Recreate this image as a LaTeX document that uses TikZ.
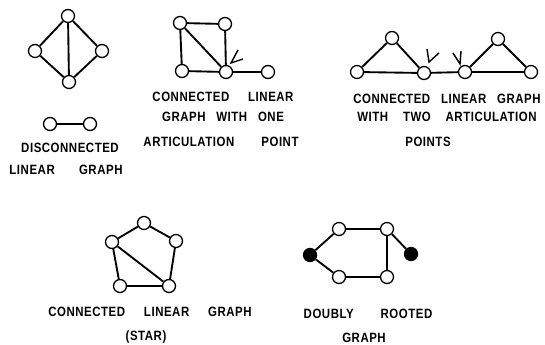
\documentclass[tikz,border=0pt]{standalone}
\usepackage{fontspec}
\setsansfont{Liberation Sans}[FakeStretch=0.85, LetterSpace=4]
\usepackage{tikz}

\newcommand{\wgap}{\hspace{1.4em}}

\begin{document}
\begin{tikzpicture}[x=0.03cm, y=-0.03cm,
        vtx/.style={circle, draw, line width=1.1pt, fill=white,
            minimum size=0.39cm, inner sep=0pt},
        root/.style={vtx, fill=black},
        edge/.style={line width=1.6pt},
        tick/.style={line width=1.2pt},
        lbl/.style={font=\sffamily\bfseries\fontsize{11.5}{13}\selectfont,
            inner sep=0pt}]

    \useasboundingbox (0,0) rectangle (545,345);

    % diamond
    \node[vtx] (d1) at (68,16) {};
    \node[vtx] (d2) at (35,51) {};
    \node[vtx] (d3) at (102,51) {};
    \node[vtx] (d4) at (69,82) {};

    \draw[edge]
        (d1) -- (d2) -- (d4) -- (d3) -- (d1)
        (d1) -- (d4);

    % disconnected pair
    \node[vtx] (p1) at (50,124) {};
    \node[vtx] (p2) at (90,124) {};

    \draw[line width=1pt]
        (p1) -- (p2);

    \node[lbl] (t1a) at (70,148) {DISCONNECTED};
    \node[lbl] (t1b) at (66,170) {LINEAR\hspace{1.8em}GRAPH};

    % one articulation point
    \node[vtx] (a1) at (180,23) {};
    \node[vtx] (a2) at (225,24) {};
    \node[vtx] (a3) at (182,71) {};
    \node[vtx] (a4) at (226,72) {};
    \node[vtx] (a5) at (268,72) {};

    \draw[edge]
        (a1) -- (a2) -- (a4) -- (a3) -- (a1)
        (a1) -- (a4)
        (a4) -- (a5);

    \draw[tick]
        (238,50) -- (231,63) -- (243,59);

    \node[lbl] (t2a) at (223,97) {CONNECTED\wgap LINEAR};
    \node[lbl] (t2b) at (223,117) {GRAPH\hspace{0.8em}WITH\hspace{0.8em}ONE};
    \node[lbl] (t2c) at (221,142) {ARTICULATION\hspace{2em}POINT};

    % two articulation points
    \node[vtx] (b1) at (357,72) {};
    \node[vtx] (b2) at (392,38) {};
    \node[vtx] (b3) at (424,73) {};
    \node[vtx] (b4) at (465,72) {};
    \node[vtx] (b5) at (498,39) {};
    \node[vtx] (b6) at (531,72) {};

    \draw[edge]
        (b1) -- (b2) -- (b3) -- (b1)
        (b3) -- (b4)
        (b4) -- (b5) -- (b6) -- (b4);

    \draw[tick]
        (427,49) -- (429,62) -- (439,53)
        (453,53) -- (460,64) -- (461,51);

    \node[lbl] (t3a) at (447,99) {CONNECTED\hspace{0.8em}LINEAR\hspace{0.8em}GRAPH};
    \node[lbl] (t3b) at (447,117) {WITH\hspace{1.1em}TWO\hspace{1.1em}ARTICULATION};
    \node[lbl] (t3c) at (428,142) {POINTS};

    % star
    \node[vtx] (c1) at (144,223) {};
    \node[vtx] (c2) at (112,242) {};
    \node[vtx] (c3) at (176,241) {};
    \node[vtx] (c4) at (120,286) {};
    \node[vtx] (c5) at (169,286) {};

    \draw[edge]
        (c2) -- (c1) -- (c3) -- (c5) -- (c4) -- (c2)
        (c2) -- (c5);

    \node[lbl] (t4a) at (150,312) {CONNECTED\wgap LINEAR\wgap GRAPH};
    \node[lbl] (t4b) at (146,337) {(STAR)};

    % doubly rooted
    \node[root] (e1) at (310,255) {};
    \node[vtx] (e2) at (339,229) {};
    \node[vtx] (e3) at (387,229) {};
    \node[root] (e4) at (411,254) {};
    \node[vtx] (e5) at (339,277) {};
    \node[vtx] (e6) at (387,277) {};

    \draw[edge]
        (e1) -- (e2) -- (e3) -- (e6) -- (e5) -- (e1)
        (e3) -- (e4);

    \node[lbl] (t5a) at (368,314) {DOUBLY\hspace{2em}ROOTED};
    \node[lbl] (t5b) at (364,338) {GRAPH};

\end{tikzpicture}
\end{document}
